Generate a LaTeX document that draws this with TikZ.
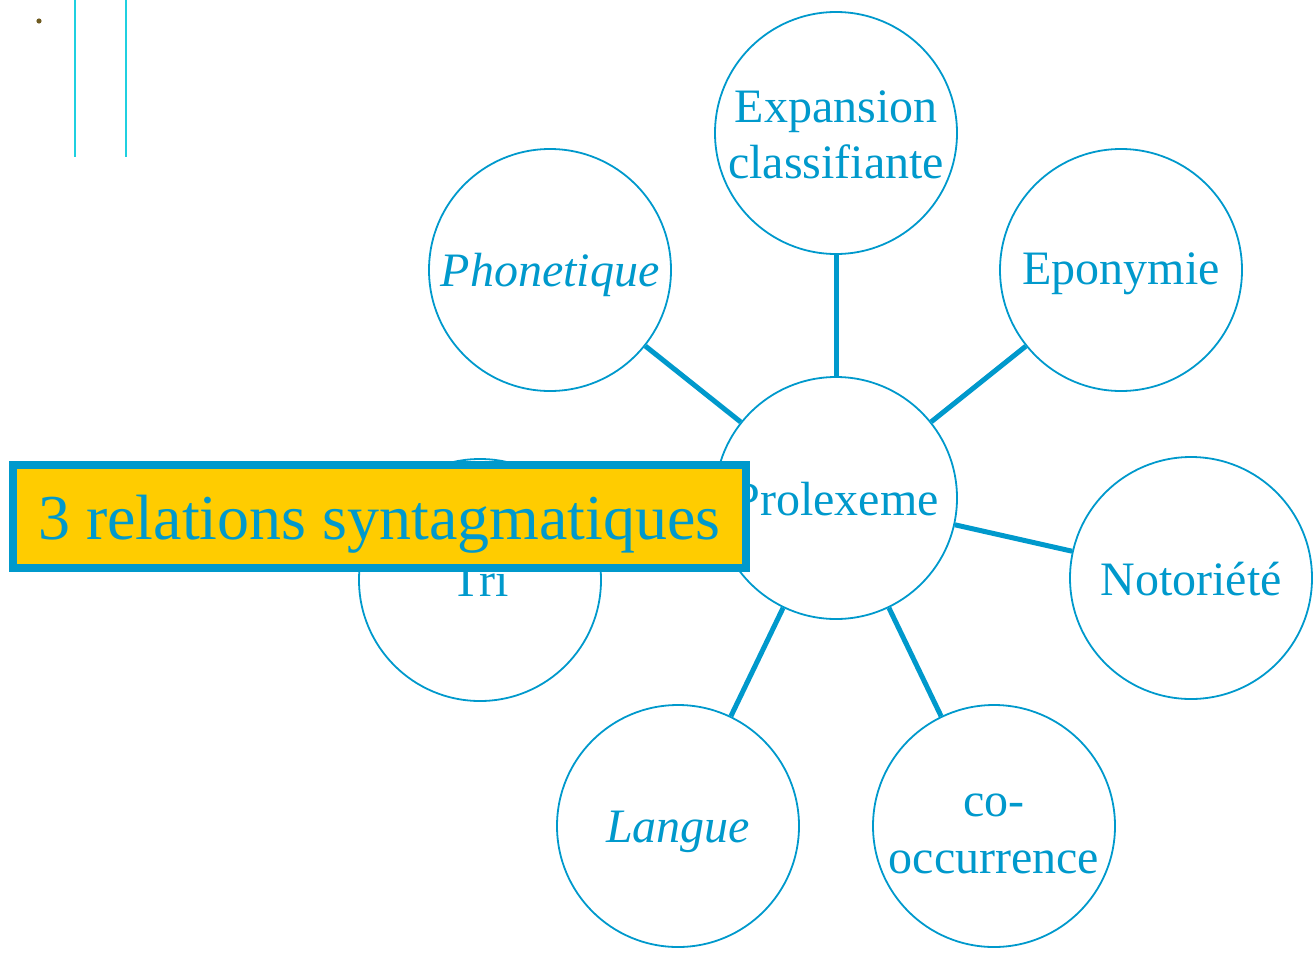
\documentclass[tikz,border=0pt]{standalone}
\usepackage{fontspec}
\setmainfont{Liberation Serif}
\definecolor{ink}{HTML}{0099CC}
\definecolor{banner}{HTML}{FFCC00}
\definecolor{rule}{HTML}{1FD0E0}
\definecolor{speck}{HTML}{6E5A20}
\begin{document}
\begin{tikzpicture}[x=1pt,y=-1pt,
  bubble/.style={circle,draw=ink,line width=1.8pt,minimum size=242pt,inner sep=0pt},
  lbl/.style={text=ink,inner sep=0pt,anchor=base,align=center,font=\fontsize{48}{57}\selectfont},
  link/.style={draw=ink,line width=5pt},
  title/.style={draw=ink,line width=8pt,fill=banner,inner sep=0pt,
    minimum width=733pt,minimum height=103pt},
  titletext/.style={text=ink,inner sep=0pt,anchor=base,font=\fontsize{64}{70}\selectfont}]
\useasboundingbox (0,0) rectangle (1316,953);
% corner marks
\fill[speck] (39,21) circle (2.6pt);
\draw[rule,line width=1.5pt] (75,0) -- (75,157);
\draw[rule,line width=1.5pt] (126,0) -- (126,157);
% bubbles
\node[bubble] (pro) at (836,498) {};
\node[bubble] (exp) at (836,133) {};
\node[bubble] (pho) at (550,270) {};
\node[bubble] (epo) at (1121,270) {};
\node[bubble] (not) at (1191,578) {};
\node[bubble] (coo) at (994,826) {};
\node[bubble] (lan) at (678,826) {};
\node[bubble] (tri) at (480,580) {};
% labels (two-line labels sit on the baseline of their last line)
\node[lbl] (pro-t) at ([yshift=-17pt]pro.center) {Prolexeme};
\node[lbl,font=\fontsize{48}{56}\selectfont] (exp-t) at ([yshift=-45pt]exp.center) {Expansion\\classifiante};
\node[lbl] (pho-t) at ([yshift=-16pt]pho.center) {\itshape Phonetique};
\node[lbl] (epo-t) at ([yshift=-14pt]epo.center) {Eponymie};
\node[lbl] (not-t) at ([yshift=-17pt]not.center) {Notoriété};
\node[lbl,font=\fontsize{48}{57}\selectfont] (coo-t) at ([yshift=-47pt]coo.center) {co-\\occurrence};
\node[lbl] (lan-t) at ([yshift=-16pt]lan.center) {\itshape Langue};
\node[lbl] (tri-t) at ([yshift=-16pt]tri.center) {Tri};
% spokes
\foreach \n in {exp,pho,epo,not,coo,lan,tri}
  \draw[link] (pro) -- (\n);
% banner
\node[title] (ban) at (379.5,516.5) {};
\node[titletext] (ban-t) at ([yshift=-22.5pt]ban.center) {3 relations syntagmatiques};
\end{tikzpicture}
\end{document}
